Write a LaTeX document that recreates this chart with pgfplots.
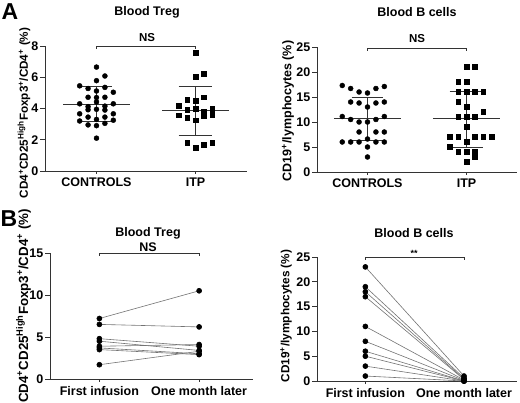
\documentclass[border=0pt]{standalone}
\usepackage{fontspec}
\setmainfont{Liberation Sans}
\usepackage{pgfplots}
\pgfplotsset{compat=1.18}
\definecolor{axc}{gray}{0.2}
\definecolor{pairc}{gray}{0.45}
\pgfplotsset{
  panel/.style={
    scale only axis, clip=false,
    axis lines=left,
    axis line style={-, draw=axc, line width=0.9pt},
    tick align=outside,
    tick style={draw=axc, line width=0.9pt},
    major tick length=5pt,
    x tick style={/pgfplots/major tick length=3pt},
    xtick={1,2}, ymin=0,
    tick label style={font=\fontsize{12.5}{14}\selectfont\bfseries},
    /pgf/number format/assume math mode=true,
    yticklabel style={inner sep=1.5pt},
    xticklabel style={inner sep=2pt},
  },
  dots/.style={only marks, mark=*, mark size=2.5pt, black},
  sq/.style={only marks, mark=square*, mark size=2.3pt, black},
  stat/.style={draw=axc, line width=0.9pt, no marks},
  pair/.style={draw=pairc, line width=0.6pt, mark=*, mark size=2.5pt, mark options={black, fill=black}},
}
\begin{document}
\begin{tikzpicture}
\path[use as bounding box] (0pt,0pt) rectangle (520pt,403pt);

% ---------------- A left ----------------
\begin{axis}[panel, at={(45pt,232pt)}, anchor=south west, width=202pt, height=125pt,
  xmin=0.48, xmax=2.52, ymax=8, ytick={0,2,4,6,8},
  xticklabels={CONTROLS,ITP}]
\addplot[dots] coordinates {(1,6.65)(1.085,6.08)(1,5.78)(0.83,5.45)(0.915,5.28)(1.085,5.35)(1,5.12)(1.17,5.04)
(0.915,4.72)(1,4.7)(1.085,4.72)(0.83,4.3)(1,4.42)(1.17,4.3)(0.915,4.12)(1.085,4.15)
(0.915,3.92)(1,3.95)(1.085,3.9)(0.83,3.66)(1.17,3.66)(0.915,3.45)(1.085,3.45)
(1,3.3)(1.17,3.25)(0.83,3.2)(0.915,2.95)(1,2.9)(1.085,3.05)(1,2.1)};
\addplot[sq] coordinates {(2,7.58)(2,6.05)(2.085,6.22)(1.915,4.56)(2,4.5)(2.085,4.73)(1.83,4.18)(1.915,3.93)(2,3.97)(2.085,3.82)(2.17,3.97)(1.83,3.57)(1.915,3.4)(2,3.25)(2.085,3.55)(2.17,3.6)(1.915,1.8)(2,1.49)(2.085,1.7)(2.17,1.8)};
\addplot[stat] coordinates {(0.665,4.27)(1.335,4.27)};
\addplot[stat] coordinates {(1,3.2)(1,5.38)};
\addplot[stat] coordinates {(0.84,5.38)(1.16,5.38)};
\addplot[stat] coordinates {(0.84,3.2)(1.16,3.2)};
\addplot[stat] coordinates {(1.665,3.88)(2.335,3.88)};
\addplot[stat] coordinates {(2,2.3)(2,5.4)};
\addplot[stat] coordinates {(1.83,5.4)(2.17,5.4)};
\addplot[stat] coordinates {(1.83,2.3)(2.17,2.3)};
\draw[axc, line width=0.8pt] (axis cs:1,7.8) -- (axis cs:1,8) -- (axis cs:2,8) -- (axis cs:2,7.8);
\end{axis}

% ---------------- A right ----------------
\begin{axis}[panel, at={(317pt,231pt)}, anchor=south west, width=200pt, height=125pt,
  xmin=0.49, xmax=2.51, ymax=25, ytick={0,5,10,15,20,25},
  xticklabels={CONTROLS,ITP}]
\addplot[dots] coordinates {(0.745,17.3)(0.83,16.7)(0.915,16.0)(1,15.8)(1.085,16.7)(1.17,17.1)
(0.83,14.0)(0.915,13.8)(1,13.0)(1.085,13.8)(1.17,14.0)
(0.745,11.1)(0.83,10.5)(0.915,10.0)(1,10.0)(1.085,10.5)(1.17,11.1)
(0.915,8.0)(1.085,8.0)(1.17,8.0)(1,6.6)
(0.745,6.0)(0.83,6.0)(0.915,6.0)(1.085,6.0)(1.17,6.0)
(1,5.0)(1,3.0)};
\addplot[sq] coordinates {(2,21)(2.085,21)(1.915,18)(2,18)(1.915,16)(2,16)(2.085,16)(2.17,16)(1.915,14)(2,13)(2.17,12)(1.915,11)(2,11)(2.085,11)(2,9)(1.83,7)(1.915,7)(2.085,7)(2.17,7)(2.255,7)(2,6)(1.83,5)(1.915,4)(2,4)(2.085,4)(2.085,3)(2,2)};
\addplot[stat] coordinates {(0.66,10.7)(1.34,10.7)};
\addplot[stat] coordinates {(1,6.4)(1,15.0)};
\addplot[stat] coordinates {(0.84,15.0)(1.16,15.0)};
\addplot[stat] coordinates {(0.84,6.4)(1.16,6.4)};
\addplot[stat] coordinates {(1.66,10.7)(2.34,10.7)};
\addplot[stat] coordinates {(2,4.9)(2,16.2)};
\addplot[stat] coordinates {(1.83,16.2)(2.17,16.2)};
\addplot[stat] coordinates {(1.83,4.9)(2.17,4.9)};
\draw[axc, line width=0.8pt] (axis cs:1,24.2) -- (axis cs:1,24.8) -- (axis cs:2,24.8) -- (axis cs:2,24.2);
\end{axis}

% ---------------- B left ----------------
\begin{axis}[panel, at={(50pt,24pt)}, anchor=south west, width=203pt, height=126pt,
  xmin=0.505, xmax=2.54, ymax=15, ytick={0,5,10,15},
  xticklabels={First infusion,One month later}]
\addplot[pair] coordinates {(1,7.2)(2,10.5)};
\addplot[pair] coordinates {(1,6.5)(2,6.2)};
\addplot[pair] coordinates {(1,4.8)(2,3.9)};
\addplot[pair] coordinates {(1,4.5)(2,3.4)};
\addplot[pair] coordinates {(1,3.9)(2,4.1)};
\addplot[pair] coordinates {(1,3.7)(2,3.0)};
\addplot[pair] coordinates {(1,3.5)(2,2.9)};
\addplot[pair] coordinates {(1,1.7)(2,3.3)};
\draw[axc, line width=0.8pt] (axis cs:1,14.65) -- (axis cs:1,15) -- (axis cs:2,15) -- (axis cs:2,14.65);
\end{axis}

% ---------------- B right ----------------
\begin{axis}[panel, at={(317pt,22pt)}, anchor=south west, width=200pt, height=124pt,
  xmin=0.51, xmax=2.537, ymax=25, ytick={0,5,10,15,20,25},
  xticklabels={First infusion,One month later}]
\addplot[pair] coordinates {(1,23)(2,1.0)};
\addplot[pair] coordinates {(1,19)(2,0.6)};
\addplot[pair] coordinates {(1,18)(2,0.4)};
\addplot[pair] coordinates {(1,17)(2,0.3)};
\addplot[pair] coordinates {(1,11)(2,0.2)};
\addplot[pair] coordinates {(1,8)(2,0.1)};
\addplot[pair] coordinates {(1,6)(2,0)};
\addplot[pair] coordinates {(1,5)(2,0)};
\addplot[pair] coordinates {(1,3)(2,0)};
\addplot[pair] coordinates {(1,1)(2,0)};
\draw[axc, line width=0.8pt] (axis cs:1,24.4) -- (axis cs:1,25) -- (axis cs:2,25) -- (axis cs:2,24.4);
\end{axis}

% ---------------- texts ----------------
\begin{scope}[every node/.style={font=\fontsize{12.5}{14}\selectfont\bfseries, inner sep=0pt}]
\node at (10pt,391pt) {\fontsize{23}{25}\selectfont A};
\node at (9pt,184pt) {\fontsize{23}{25}\selectfont B};
\node at (147pt,391pt) {Blood Treg};
\node at (417pt,391pt) {Blood B cells};
\node at (147pt,365pt) {\fontsize{11.5}{13}\selectfont NS};
\node at (417pt,364pt) {\fontsize{11.5}{13}\selectfont NS};
\node at (148pt,170pt) {Blood Treg};
\node at (148pt,156pt) {NS};
\node at (414pt,170pt) {Blood B cells};
\node at (414pt,150pt) {\fontsize{9}{10}\selectfont **};
\node[rotate=90] at (24pt,290pt) {\fontsize{11.7}{13}\selectfont CD4\textsuperscript{+}CD25\textsuperscript{High}Foxp3\textsuperscript{+}/CD4\textsuperscript{+} (\%)};
\node[rotate=90] at (288pt,292pt) {\fontsize{12.5}{14}\selectfont CD19\textsuperscript{+}/lymphocytes (\%)};
\node[rotate=90] at (23.5pt,97pt) {\fontsize{13.3}{15}\selectfont CD4\textsuperscript{+}CD25\textsuperscript{High}Foxp3\textsuperscript{+}/CD4\textsuperscript{+} (\%)};
\node[rotate=90] at (286pt,87pt) {\fontsize{11.8}{13}\selectfont CD19\textsuperscript{+}/lymphocytes (\%)};
\end{scope}
\end{tikzpicture}
\end{document}
